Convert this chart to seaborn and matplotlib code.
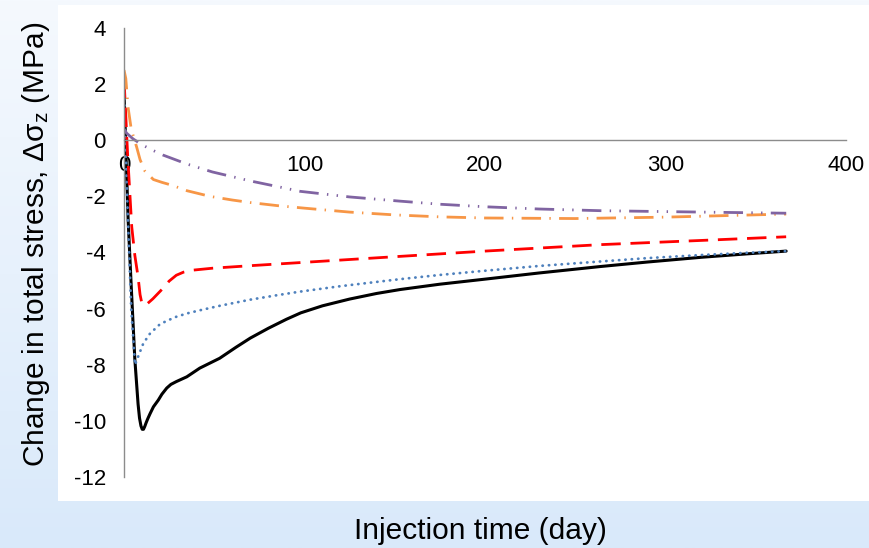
import numpy as np
import pandas as pd
import matplotlib
matplotlib.use("Agg")
import matplotlib.pyplot as plt
from matplotlib.patches import Rectangle
from matplotlib.colors import LinearSegmentedColormap
import seaborn as sns

sns.set_theme(style="white")
plt.rcParams['font.family'] = ['Liberation Sans', 'DejaVu Sans']

# ---- data ----
black_days = [0, 1, 2.3, 4, 6, 7.8, 8.6, 9.4, 10.1, 10.8, 11.5, 12.3, 13.2, 14.4, 16.3, 19, 21, 23.7, 26, 29,
              34.8, 42, 53, 62, 70, 80, 90, 98, 110, 125, 140, 153, 175, 200, 230, 264, 290, 320, 345, 367]
black_vals = [1.8, -0.3, -2.85, -5.2, -7.8, -9.4, -9.9, -10.18, -10.3, -10.3, -10.2, -10.06, -9.92, -9.75, -9.5,
              -9.26, -9.05, -8.83, -8.7, -8.6, -8.43, -8.12, -7.77, -7.38, -7.05, -6.7, -6.38, -6.15, -5.9, -5.66,
              -5.46, -5.32, -5.13, -4.95, -4.73, -4.5, -4.34, -4.17, -4.05, -3.95]

blue_days = [0, 2, 4, 6.1, 8.5, 10.7, 14.4, 20, 25, 29, 35, 42, 53, 70, 85, 98, 120, 153, 175, 200, 230, 264,
             290, 320, 345, 367]
blue_vals = [1.7, -2.5, -6.0, -8.0, -7.6, -7.24, -6.89, -6.55, -6.4, -6.29, -6.17, -6.06, -5.9, -5.68, -5.52,
             -5.39, -5.2, -4.95, -4.8, -4.65, -4.48, -4.32, -4.2, -4.09, -4.01, -3.95]

red_days = [0, 2, 4.3, 6, 7.8, 8.9, 9.8, 10.7, 11.8, 13, 16, 19, 21.7, 25, 29, 33, 38, 49, 70, 100, 150, 200,
            264, 320, 367]
red_vals = [2.2, -0.5, -3.09, -4.1, -4.87, -5.5, -5.78, -5.88, -5.88, -5.82, -5.65, -5.45, -5.27, -5.02, -4.81,
            -4.7, -4.63, -4.56, -4.47, -4.35, -4.15, -3.95, -3.72, -3.57, -3.44]

orange_days = [0, 1, 2.2, 4, 7, 8.9, 11.6, 16.3, 21, 26.4, 35, 47.7, 60, 70, 85, 100, 125, 150, 175, 200, 250,
               300, 367]
orange_vals = [2.5, 2.2, 1.2, 0.4, -0.24, -0.69, -1.1, -1.4, -1.5, -1.6, -1.8, -2.0, -2.13, -2.22, -2.33, -2.42,
               -2.56, -2.66, -2.73, -2.77, -2.79, -2.74, -2.63]

purple_days = [0, 1.5, 5, 10.5, 16, 21.7, 35, 49, 70, 85, 97.6, 125, 153, 175, 200, 230, 264, 320, 367]
purple_vals = [0.4, 0.25, 0.05, -0.18, -0.36, -0.53, -0.85, -1.13, -1.45, -1.65, -1.82, -2.02, -2.17, -2.28,
               -2.37, -2.45, -2.51, -2.56, -2.6]

x_ticks = [0, 100, 200, 300, 400]
y_ticks = [-12, -10, -8, -6, -4, -2, 0, 2, 4]

W, H = 869, 548
fig = plt.figure(figsize=(W / 100, H / 100), dpi=100)

# background: light-blue gradient with white chart area
bg = fig.add_axes([0, 0, 1, 1], zorder=-10)
cmap = LinearSegmentedColormap.from_list("bg", ["#f5f9fe", "#d9e9fa"])
grad = np.linspace(0, 1, 256).reshape(-1, 1)
bg.imshow(grad, cmap=cmap, aspect='auto', extent=[0, W, H, 0])
bg.add_patch(Rectangle((58, 5), W - 58, 496, facecolor="white", edgecolor="none"))
bg.set_xlim(0, W)
bg.set_ylim(H, 0)
bg.axis('off')

ax = fig.add_axes([124 / W, 1 - 477 / H, (845.7 - 124) / W, (477 - 28) / H])
ax.set_facecolor('none')

series = [
    (black_days, black_vals, "black", 2.2, '-'),
    (blue_days, blue_vals, "#4f81bd", 2.0, (0, (0.1, 2.2))),
    (red_days, red_vals, "#ff0000", 2.0, (0, (7, 3.5))),
    (orange_days, orange_vals, "#f79646", 2.0, (0, (7, 3, 0.5, 3))),
    (purple_days, purple_vals, "#8064a2", 2.0, (0, (7, 3, 0.5, 3, 0.5, 3))),
]
for d, v, c, lw, ls in series:
    df = pd.DataFrame({"day": d, "val": v})
    line_kws = dict(color=c, linewidth=lw, linestyle=ls, solid_joinstyle='round', dash_joinstyle='round')
    if c == "#4f81bd":
        line_kws["dash_capstyle"] = "round"
    sns.lineplot(data=df, x="day", y="val", ax=ax, estimator=None, sort=False, **line_kws)

ax.set_xlim(0, 400)
ax.set_ylim(-12, 4)
ax.set_xticks(x_ticks)
ax.set_yticks(y_ticks)
ax.set_xticklabels([str(t) for t in x_ticks])
ax.set_yticklabels([str(t) for t in y_ticks])

for s in ['top', 'right']:
    ax.spines[s].set_visible(False)
ax.spines['left'].set_position(('data', 0))
ax.spines['bottom'].set_position(('data', 0))
for s in ['left', 'bottom']:
    ax.spines[s].set_color('#8c8c8c')
    ax.spines[s].set_linewidth(1.0)
ax.tick_params(axis='x', direction='out', length=4.5, width=1.0, color='#8c8c8c', pad=6,
               labelcolor='black', labelsize=16)
ax.tick_params(axis='y', direction='out', length=4, width=1.0, color='#8c8c8c', pad=9,
               labelcolor='black', labelsize=16)
ax.set_xlabel("")
ax.set_ylabel("")

fig.text(480 / W, 1 - 531 / H, "Injection time (day)", ha='center', va='center', fontsize=21.5, color='black')
fig.text(36 / W, 1 - 244 / H, r"Change in total stress, $\mathregular{\Delta\sigma_z}$ (MPa)", ha='center',
         va='center', rotation=90, fontsize=21.5, color='black')

fig.savefig("out.png", dpi=100)
